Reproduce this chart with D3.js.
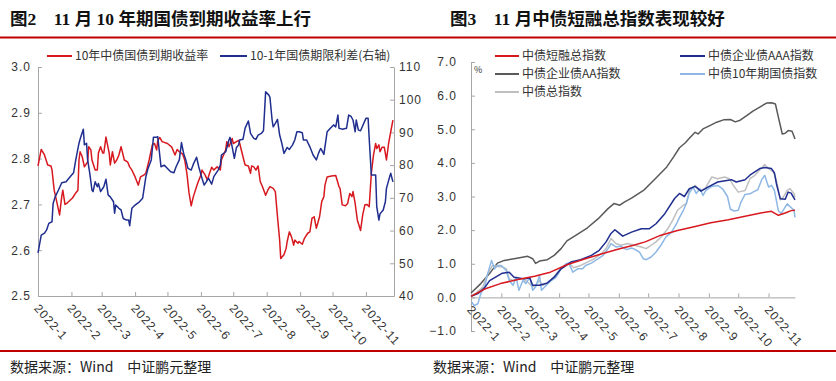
<!DOCTYPE html>
<html>
<head>
<meta charset="UTF-8">
<title>图2 图3</title>
<script src="https://d3js.org/d3.v7.min.js"></script>
<style>
  body {
    margin: 0;
    padding: 0;
    background: #fff;
  }
  svg text {
    font-family: "Noto Sans CJK SC", sans-serif;
  }
  .title {
    font-family: "Liberation Serif", "Noto Sans CJK SC", serif !important;
    font-weight: bold;
    font-size: 17.5px;
    fill: #111;
  }
  .legend-text {
    font-size: 12px;
    fill: #333;
  }
  .axis path, .axis line {
    stroke: #a6a6a6;
  }
  .axis text {
    font-family: "Liberation Sans", sans-serif !important;
    font-size: 12px;
    fill: #333;
    letter-spacing: 1px;
  }
  .source {
    font-size: 14px;
    fill: #222;
  }
  .series {
    fill: none;
    stroke-width: 1.5;
    stroke-linejoin: round;
  }
</style>
</head>
<body>
<svg id="chart" width="836" height="381"></svg>

<script>
  // 月份标签
  const monthLabels = ["2022-1", "2022-2", "2022-3", "2022-4", "2022-5", "2022-6",
    "2022-7", "2022-8", "2022-9", "2022-10", "2022-11"];

  // 图2：10年中债国债到期收益率 (%)
  const yield10y = [
    ["01-01",2.784],["01-04",2.820],["01-07",2.808],["01-10",2.786],["01-13",2.784],["01-14",2.775],["01-16",2.731],
    ["01-18",2.710],["01-21",2.677],["01-23",2.717],["01-24",2.731],["01-26",2.700],["01-28",2.703],["02-02",2.714],
    ["02-05",2.725],["02-07",2.731],["02-08",2.797],["02-09",2.815],["02-11",2.804],["02-13",2.782],["02-16",2.793],
    ["02-17",2.826],["02-19",2.819],["02-20",2.797],["02-23",2.775],["02-25",2.775],["02-26",2.812],["02-28",2.826],
    ["03-02",2.812],["03-03",2.812],["03-05",2.847],["03-08",2.812],["03-09",2.786],["03-11",2.815],["03-13",2.790],
    ["03-15",2.797],["03-17",2.808],["03-19",2.826],["03-22",2.797],["03-25",2.793],["03-27",2.782],["03-29",2.775],
    ["04-01",2.760],["04-04",2.742],["04-06",2.760],["04-09",2.764],["04-11",2.768],["04-14",2.797],["04-17",2.830],
    ["04-19",2.833],["04-21",2.819],["04-22",2.840],["04-24",2.846],["04-26",2.837],["05-01",2.833],["05-05",2.825],
    ["05-08",2.808],["05-10",2.820],["05-12",2.815],["05-15",2.810],["05-17",2.797],["05-19",2.768],["05-21",2.725],
    ["05-23",2.697],["05-25",2.717],["05-29",2.746],["06-01",2.764],["06-02",2.775],["06-05",2.764],["06-07",2.753],
    ["06-09",2.768],["06-11",2.781],["06-13",2.775],["06-16",2.782],["06-19",2.775],["06-20",2.797],["06-24",2.819],
    ["06-25",2.837],["06-27",2.826],["06-30",2.844],["07-01",2.833],["07-04",2.837],["07-06",2.840],["07-07",2.833],
    ["07-10",2.804],["07-12",2.786],["07-15",2.784],["07-17",2.768],["07-18",2.784],["07-20",2.782],["07-22",2.775],
    ["07-24",2.784],["07-26",2.750],["07-28",2.739],["07-31",2.720],["08-02",2.731],["08-04",2.739],["08-07",2.735],
    ["08-09",2.728],["08-11",2.673],["08-13",2.622],["08-14",2.582],["08-17",2.590],["08-19",2.604],["08-20",2.619],
    ["08-22",2.640],["08-24",2.629],["08-26",2.611],["08-27",2.622],["08-30",2.615],["08-31",2.619],["09-03",2.613],
    ["09-05",2.626],["09-08",2.637],["09-10",2.640],["09-12",2.670],["09-14",2.673],["09-16",2.648],["09-19",2.673],
    ["09-21",2.706],["09-23",2.717],["09-24",2.742],["09-26",2.760],["09-30",2.762],["10-04",2.763],["10-07",2.739],
    ["10-08",2.735],["10-10",2.699],["10-13",2.697],["10-15",2.702],["10-17",2.724],["10-19",2.717],["10-20",2.728],
    ["10-22",2.702],["10-24",2.666],["10-27",2.643],["10-29",2.677],["10-30",2.688],["10-31",2.699],["11-02",2.700],
    ["11-04",2.695],["11-06",2.768],["11-08",2.808],["11-10",2.833],["11-11",2.822],["11-13",2.830],["11-14",2.815],
    ["11-16",2.825],["11-18",2.825],["11-20",2.797],["11-22",2.833],["11-24",2.859],["11-26",2.884]
  ];

  // 图2：10-1年国债期限利差 (BP，右轴)
  const termSpread = [
    ["01-01",53.2],["01-04",58.6],["01-07",59.2],["01-09",60.2],["01-11",62.2],["01-14",62.7],["01-15",68.3],
    ["01-17",70.4],["01-20",72.4],["01-23",74.6],["01-27",74.9],["01-31",76.5],["02-03",77.7],["02-05",81.6],
    ["02-08",86.7],["02-09",87.9],["02-12",91.0],["02-13",86.2],["02-15",86.7],["02-16",81.6],["02-18",77.5],
    ["02-20",72.4],["02-21",71.9],["02-23",74.9],["02-25",73.4],["02-26",74.4],["02-28",71.9],["03-03",73.4],
    ["03-05",75.7],["03-07",70.9],["03-09",70.3],["03-12",68.8],["03-13",65.3],["03-14",67.8],["03-17",66.8],
    ["03-19",66.3],["03-21",63.7],["03-24",63.2],["03-26",63.2],["03-27",61.5],["03-29",66.8],["04-01",67.8],
    ["04-05",68.8],["04-08",69.9],["04-11",76.5],["04-13",79.0],["04-16",81.6],["04-18",88.5],["04-21",88.5],
    ["04-22",88.7],["04-24",82.6],["04-25",79.5],["04-28",80.0],["05-01",79.0],["05-04",78.0],["05-07",77.7],
    ["05-09",79.5],["05-12",81.6],["05-14",86.9],["05-16",83.6],["05-18",81.6],["05-20",79.0],["05-23",78.5],
    ["05-25",80.3],["05-28",82.4],["05-30",79.5],["06-02",76.0],["06-04",73.9],["06-06",74.9],["06-08",76.0],
    ["06-11",74.2],["06-13",76.5],["06-14",77.0],["06-17",78.5],["06-19",80.0],["06-20",83.1],["06-24",84.1],
    ["06-27",87.7],["06-28",88.5],["06-30",85.6],["07-02",82.1],["07-04",85.4],["07-06",86.2],["07-07",87.7],
    ["07-10",87.9],["07-12",91.3],["07-15",93.5],["07-17",89.7],["07-20",88.2],["07-22",87.9],["07-24",89.2],
    ["07-27",89.7],["07-29",90.5],["07-30",96.3],["07-31",102.4],["08-03",101.4],["08-04",100.7],["08-06",93.8],
    ["08-07",91.7],["08-09",92.8],["08-11",94.0],["08-13",89.2],["08-15",86.7],["08-17",83.6],["08-20",85.4],
    ["08-22",84.8],["08-25",86.2],["08-27",87.7],["08-29",90.2],["08-31",90.2],["09-03",89.9],["09-04",87.7],
    ["09-07",87.7],["09-10",85.6],["09-13",83.1],["09-16",81.6],["09-18",83.6],["09-20",85.1],["09-21",84.6],
    ["09-23",83.3],["09-26",90.2],["09-29",91.3],["10-02",92.3],["10-04",91.7],["10-06",95.3],["10-07",91.3],
    ["10-10",91.0],["10-14",91.3],["10-16",95.3],["10-18",95.0],["10-20",93.8],["10-22",90.2],["10-23",93.8],
    ["10-25",90.7],["10-27",90.5],["10-30",92.8],["11-01",94.3],["11-03",94.3],["11-04",88.2],["11-06",77.0],
    ["11-10",77.0],["11-11",67.3],["11-13",63.2],["11-14",65.1],["11-17",66.3],["11-19",68.8],["11-20",72.9],
    ["11-23",76.5],["11-24",77.5],["11-26",74.9]
  ];

  // 图3：各指数累计涨幅 (%)
  const shortFinance = [
    ["01-01",0.03],["01-15",0.25],["01-31",0.41],["02-18",0.53],["03-07",0.63],["03-23",0.75],["04-09",0.97],
    ["04-27",1.14],["05-14",1.29],["05-31",1.43],["06-16",1.55],["06-28",1.65],["07-14",1.85],["07-31",1.99],
    ["08-18",2.11],["09-03",2.22],["09-21",2.31],["10-08",2.41],["10-24",2.51],["11-04",2.56],["11-11",2.44],
    ["11-18",2.51],["11-24",2.58],["11-28",2.59]
  ];
  const corpAAA = [
    ["01-01",0.03],["01-08",0.11],["01-15",0.29],["01-20",0.50],["01-27",0.62],["02-02",0.72],["02-09",0.75],
    ["02-14",0.60],["02-25",0.55],["03-02",0.58],["03-05",0.36],["03-12",0.36],["03-20",0.43],["03-27",0.60],
    ["04-03",0.85],["04-13",1.05],["04-23",1.12],["05-04",1.25],["05-12",1.40],["05-19",1.65],["05-24",1.90],
    ["05-28",2.01],["05-31",1.94],["06-05",1.82],["06-14",1.94],["06-24",2.04],["07-02",2.04],["07-09",2.19],
    ["07-18",2.49],["07-28",2.94],["08-02",3.09],["08-07",3.00],["08-12",3.23],["08-18",3.30],["08-24",3.16],
    ["08-31",3.28],["09-10",3.43],["09-24",3.50],["09-29",3.43],["10-08",3.50],["10-14",3.66],["10-23",3.83],
    ["10-28",3.86],["11-04",3.83],["11-07",3.70],["11-09",3.38],["11-13",2.93],["11-18",2.92],["11-21",3.13],
    ["11-24",3.10],["11-28",2.90]
  ];
  const corpAA = [
    ["01-01",0.13],["01-11",0.41],["01-21",0.75],["01-28",1.02],["02-04",1.10],["02-14",1.15],["02-28",1.22],
    ["03-05",1.15],["03-08",1.01],["03-12",1.08],["03-20",1.12],["03-27",1.25],["04-03",1.45],["04-09",1.68],
    ["04-20",1.88],["04-30",2.07],["05-11",2.34],["05-21",2.64],["05-27",2.79],["06-02",2.74],["06-07",2.84],
    ["06-14",2.95],["06-27",3.20],["07-10",3.58],["07-20",3.88],["07-27",4.18],["08-02",4.45],["08-08",4.60],
    ["08-13",4.76],["08-18",4.91],["08-21",4.86],["08-26",5.01],["09-02",5.11],["09-09",5.21],["09-16",5.28],
    ["09-23",5.29],["09-28",5.22],["10-03",5.27],["10-10",5.41],["10-16",5.54],["10-23",5.66],["10-30",5.78],
    ["11-04",5.79],["11-08",5.75],["11-11",5.36],["11-15",4.86],["11-18",4.88],["11-21",4.96],["11-25",4.94],
    ["11-28",4.71]
  ];
  const govt10y = [
    ["01-02",-0.14],["01-04",-0.24],["01-08",-0.19],["01-11",0.11],["01-15",0.31],["01-18",0.70],["01-22",1.10],
    ["01-25",0.85],["01-28",0.95],["02-01",0.95],["02-06",0.80],["02-09",0.50],["02-13",0.36],["02-16",0.60],
    ["02-19",0.21],["02-23",0.50],["02-26",0.41],["03-02",0.60],["03-05",0.21],["03-08",0.31],["03-12",0.65],
    ["03-14",0.21],["03-19",0.36],["03-24",0.50],["03-29",0.60],["04-03",0.85],["04-08",1.00],["04-11",1.02],
    ["04-15",0.75],["04-20",0.85],["04-25",0.85],["04-28",0.95],["05-04",1.02],["05-11",1.15],["05-16",1.25],
    ["05-21",1.45],["05-24",1.60],["05-29",1.50],["06-03",1.52],["06-09",1.42],["06-14",1.47],["06-19",1.40],
    ["06-22",1.35],["06-26",1.15],["06-29",1.12],["07-04",1.20],["07-09",1.35],["07-14",1.55],["07-19",1.79],
    ["07-25",1.94],["07-30",2.19],["08-02",2.38],["08-06",2.59],["08-09",2.79],["08-12",3.10],["08-16",3.28],
    ["08-19",3.09],["08-23",3.23],["08-26",3.03],["08-29",3.18],["09-04",3.30],["09-10",3.33],["09-15",3.23],
    ["09-20",3.00],["09-23",2.62],["09-27",2.57],["10-01",2.59],["10-04",2.85],["10-08",3.06],["10-13",3.08],
    ["10-16",3.13],["10-21",3.20],["10-25",3.50],["10-28",3.63],["11-01",3.28],["11-04",3.33],["11-07",3.18],
    ["11-11",2.57],["11-14",2.50],["11-20",2.78],["11-23",2.70],["11-27",2.59],["11-28",2.38]
  ];
  const bondTotal = [
    ["01-01",0.06],["01-06",0.12],["01-13",0.31],["01-18",0.70],["01-23",0.95],["01-28",0.92],["02-02",0.90],
    ["02-06",0.85],["02-09",0.55],["02-13",0.50],["02-18",0.55],["02-23",0.55],["02-28",0.45],["03-05",0.31],
    ["03-08",0.36],["03-12",0.50],["03-15",0.36],["03-20",0.41],["03-25",0.55],["04-01",0.80],["04-06",0.90],
    ["04-11",1.02],["04-16",0.88],["04-23",0.95],["04-30",1.05],["05-07",1.15],["05-14",1.30],["05-19",1.45],
    ["05-24",1.75],["05-29",1.60],["06-03",1.55],["06-10",1.60],["06-17",1.55],["06-24",1.50],["06-29",1.45],
    ["07-04",1.55],["07-09",1.65],["07-14",1.79],["07-21",2.04],["07-26",2.29],["07-31",2.59],["08-06",2.74],
    ["08-09",2.79],["08-12",3.18],["08-18",3.33],["08-23",3.18],["08-28",3.23],["09-04",3.58],["09-10",3.53],
    ["09-17",3.58],["09-22",3.53],["09-26",3.33],["10-01",3.13],["10-08",3.18],["10-13",3.53],["10-18",3.63],
    ["10-21",3.73],["10-28",3.95],["11-01",3.83],["11-06",3.73],["11-09",3.48],["11-13",2.90],["11-16",2.98],
    ["11-20",3.18],["11-23",3.23],["11-27",3.08],["11-28",2.98]
  ];

  const parseDay = d3.timeParse("%Y-%m-%d");
  const toPoints = arr => arr.map(([d, v]) => ({ date: parseDay("2022-" + d), value: v }));
  const monthStarts = d3.timeMonth.range(new Date(2022, 0, 1), new Date(2022, 11, 1));

  const svg = d3.select("#chart");

  // 标题与红线
  svg.append("text").attr("class", "title").attr("x", 10).attr("y", 25).text("图2　11 月 10 年期国债到期收益率上行");
  svg.append("text").attr("class", "title").attr("x", 450).attr("y", 25).text("图3　11 月中债短融总指数表现较好");
  svg.append("line").attr("x1", 0).attr("x2", 836).attr("y1", 37.5).attr("y2", 37.5)
    .attr("stroke", "#c00000").attr("stroke-width", 2);
  svg.append("line").attr("x1", 0).attr("x2", 836).attr("y1", 351).attr("y2", 351)
    .attr("stroke", "#c00000").attr("stroke-width", 2);
  svg.append("text").attr("class", "source").attr("x", 10).attr("y", 372).text("数据来源：Wind　中证鹏元整理");
  svg.append("text").attr("class", "source").attr("x", 433).attr("y", 372).text("数据来源：Wind　中证鹏元整理");

  function legendItem(g, x, y, color, label, width) {
    g.append("line").attr("x1", x).attr("x2", x + width).attr("y1", y).attr("y2", y)
      .attr("stroke", color).attr("stroke-width", 2);
    g.append("text").attr("class", "legend-text").attr("x", x + width + 3).attr("y", y + 4).text(label);
  }

  function rotateLabels(axisG) {
    axisG.selectAll("text")
      .attr("x", 0).attr("y", 0).attr("dy", "0.35em")
      .attr("text-anchor", "start")
      .attr("transform", "translate(-2,10) rotate(48)");
  }

  // ===== 图2 =====
  const left = svg.append("g");
  const x1 = d3.scaleTime().domain([new Date(2022, 0, 1), new Date(2022, 10, 27)]).range([38, 394]);
  const yL = d3.scaleLinear().domain([2.5, 3.0]).range([296, 67]);
  const yR = d3.scaleLinear().domain([40, 110]).range([296, 67]);

  left.append("g").attr("class", "axis").attr("transform", "translate(38,0)")
    .call(d3.axisLeft(yL).tickValues([2.5, 2.6, 2.7, 2.8, 2.9, 3.0]).tickFormat(d3.format(".1f"))
      .tickSize(-4).tickSizeOuter(0).tickPadding(7));
  left.append("g").attr("class", "axis").attr("transform", "translate(394,0)")
    .call(d3.axisRight(yR).tickValues(d3.range(40, 111, 10))
      .tickSize(-4).tickSizeOuter(0).tickPadding(5));
  const xAxisL = left.append("g").attr("class", "axis").attr("transform", "translate(0,296)")
    .call(d3.axisBottom(x1).tickValues(monthStarts).tickFormat((d, i) => monthLabels[i])
      .tickSize(-4).tickSizeOuter(0));
  rotateLabels(xAxisL);

  const lineL = d3.line().x(d => x1(d.date)).y(d => yL(d.value));
  const lineR = d3.line().x(d => x1(d.date)).y(d => yR(d.value));
  left.append("path").datum(toPoints(yield10y)).attr("class", "series")
    .attr("stroke", "#d7191f").attr("d", lineL);
  left.append("path").datum(toPoints(termSpread)).attr("class", "series")
    .attr("stroke", "#1f2e8f").attr("d", lineR);

  legendItem(left, 47, 56, "#d7191f", "10年中债国债到期收益率", 25);
  legendItem(left, 220, 56, "#1f2e8f", "10-1年国债期限利差(右轴)", 27);

  // ===== 图3 =====
  const right = svg.append("g");
  const x2 = d3.scaleTime().domain([new Date(2022, 0, 1), new Date(2022, 10, 28)]).range([471, 795]);
  const y2 = d3.scaleLinear().domain([-1, 7]).range([331, 62]);

  right.append("g").attr("class", "axis").attr("transform", "translate(471,0)")
    .call(d3.axisLeft(y2).tickValues(d3.range(-1, 7.5, 1)).tickFormat(d3.format(".1f"))
      .tickSize(-4).tickSizeOuter(0).tickPadding(14));
  const xAxisR = right.append("g").attr("class", "axis").attr("transform", `translate(0,${y2(0)})`)
    .call(d3.axisBottom(x2).tickValues(monthStarts).tickFormat((d, i) => monthLabels[i])
      .tickSize(-4).tickSizeOuter(0));
  rotateLabels(xAxisR);
  right.append("text").attr("x", 474).attr("y", 73).attr("font-size", 9).attr("fill", "#333").text("%");

  const line2 = d3.line().x(d => x2(d.date)).y(d => y2(d.value));
  const rightSeries = [
    { data: corpAA, color: "#595959", label: "中债企业债AA指数" },
    { data: bondTotal, color: "#bfbfbf", label: "中债总指数" },
    { data: govt10y, color: "#8db8e6", label: "中债10年期国债指数" },
    { data: corpAAA, color: "#1f2e8f", label: "中债企业债AAA指数" },
    { data: shortFinance, color: "#d7191f", label: "中债短融总指数" }
  ];
  rightSeries.forEach(s => {
    right.append("path").datum(toPoints(s.data)).attr("class", "series")
      .attr("stroke", s.color).attr("d", line2);
  });

  legendItem(right, 495, 56, "#d7191f", "中债短融总指数", 24);
  legendItem(right, 680, 56, "#1f2e8f", "中债企业债AAA指数", 25);
  legendItem(right, 495, 74, "#595959", "中债企业债AA指数", 24);
  legendItem(right, 680, 74, "#8db8e6", "中债10年期国债指数", 25);
  legendItem(right, 495, 92, "#bfbfbf", "中债总指数", 24);
</script>
</body>
</html>
